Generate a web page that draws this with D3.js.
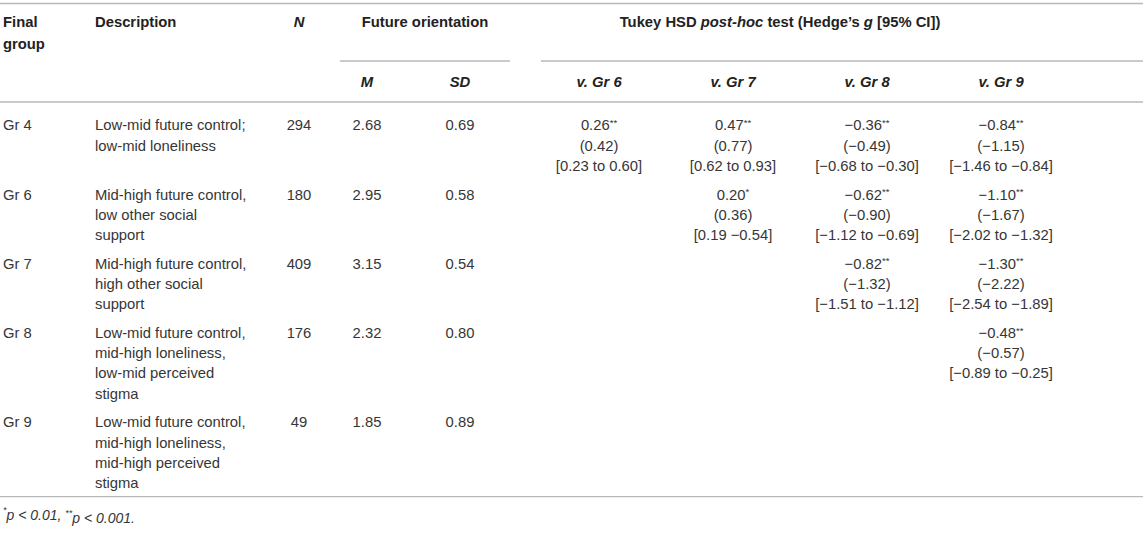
<!DOCTYPE html>
<html>
<head>
<meta charset="utf-8">
<script src="https://cdn.jsdelivr.net/npm/d3@7/dist/d3.min.js"></script>
<style>
  html, body { margin: 0; padding: 0; background: #fff; }
  svg text { font-family: "Liberation Sans", Arial, Helvetica, sans-serif; }
</style>
</head>
<body>
<svg id="chart" width="1143" height="534"></svg>
<script>
// ---------- DATA ----------
const groups = ["Gr 4", "Gr 6", "Gr 7", "Gr 8", "Gr 9"];
const descriptions = [
  ["Low-mid future control;", "low-mid loneliness"],
  ["Mid-high future control,", "low other social", "support"],
  ["Mid-high future control,", "high other social", "support"],
  ["Low-mid future control,", "mid-high loneliness,", "low-mid perceived", "stigma"],
  ["Low-mid future control,", "mid-high loneliness,", "mid-high perceived", "stigma"]
];
const nValues = [294, 180, 409, 176, 49];
const means = ["2.68", "2.95", "3.15", "2.32", "1.85"];
const sds = ["0.69", "0.58", "0.54", "0.80", "0.89"];
const comparisons = ["v. Gr 6", "v. Gr 7", "v. Gr 8", "v. Gr 9"];
// mean differences (null = empty cell)
const meanDiffs = [
  ["0.26", "0.47", "\u22120.36", "\u22120.84"],
  [null, "0.20", "\u22120.62", "\u22121.10"],
  [null, null, "\u22120.82", "\u22121.30"],
  [null, null, null, "\u22120.48"],
  [null, null, null, null]
];
const significance = [
  ["**", "**", "**", "**"],
  [null, "*", "**", "**"],
  [null, null, "**", "**"],
  [null, null, null, "**"],
  [null, null, null, null]
];
const hedgesG = [
  ["0.42", "0.77", "\u22120.49", "\u22121.15"],
  [null, "0.36", "\u22120.90", "\u22121.67"],
  [null, null, "\u22121.32", "\u22122.22"],
  [null, null, null, "\u22120.57"],
  [null, null, null, null]
];
const ciLabels = [
  ["[0.23 to 0.60]", "[0.62 to 0.93]", "[\u22120.68 to \u22120.30]", "[\u22121.46 to \u22120.84]"],
  [null, "[0.19 \u22120.54]", "[\u22121.12 to \u22120.69]", "[\u22122.02 to \u22121.32]"],
  [null, null, "[\u22121.51 to \u22121.12]", "[\u22122.54 to \u22121.89]"],
  [null, null, null, "[\u22120.89 to \u22120.25]"],
  [null, null, null, null]
];
const footnoteParts = [["*", "p < 0.01, "], ["**", "p < 0.001."]];

// ---------- LAYOUT ----------
const W = 1143;
const FS = 14.8;
const LH = 20.2;
const textColor = "#363636";
const headColor = "#222";
const ruleColor = "#b8b8b8";

const svg = d3.select("#chart");

const col = { group: 3, desc: 95, n: 299, m: 367, sd: 460 };
const cmpX = d3.scaleBand().domain(comparisons).range([532, 1068]);
const cx = c => cmpX(c) + cmpX.bandwidth() / 2;

// row line counts and y positions
const lineCounts = groups.map((g, i) => {
  const hasCmp = meanDiffs[i].some(v => v !== null);
  return Math.max(descriptions[i].length, hasCmp ? 3 : 1);
});
const firstBodyY = 125;
const rowGap = 8.6;
const rowY = [];
lineCounts.reduce((y, n, i) => { rowY[i] = y; return y + n * LH + rowGap; }, firstBodyY);

// rules
function rule(x1, x2, y, w) {
  svg.append("line").attr("x1", x1).attr("x2", x2).attr("y1", y).attr("y2", y)
    .attr("stroke", ruleColor).attr("stroke-width", w || 1.3);
}
rule(0, W, 3.5);
rule(340, 510, 61);
rule(541, W, 61);
rule(0, W, 102);
const bottomY = rowY[rowY.length - 1] + (lineCounts[lineCounts.length - 1] - 1) * LH + 14;
rule(0, W, bottomY);

function txt(x, y, s, opts) {
  opts = opts || {};
  const t = svg.append("text").attr("x", x).attr("y", y).attr("dy", "0.36em")
    .attr("font-size", opts.size || FS)
    .attr("fill", opts.color || textColor)
    .attr("text-anchor", opts.anchor || "start");
  if (opts.bold) t.attr("font-weight", "bold");
  if (opts.italic) t.attr("font-style", "italic");
  if (s !== null && s !== undefined) t.text(s);
  return t;
}

// ---------- HEADER ----------
const hdr = { bold: true, color: headColor };
txt(col.group, 22, "Final", hdr);
txt(col.group, 44, "group", hdr);
txt(col.desc, 22, "Description", hdr);
txt(col.n, 22, "N", Object.assign({ italic: true, anchor: "middle" }, hdr));
txt(425, 22, "Future orientation", Object.assign({ anchor: "middle" }, hdr));
const tk = txt(780, 22, null, Object.assign({ anchor: "middle" }, hdr));
tk.append("tspan").text("Tukey HSD ");
tk.append("tspan").attr("font-style", "italic").text("post-hoc");
tk.append("tspan").text(" test (Hedge\u2019s ");
tk.append("tspan").attr("font-style", "italic").text("g");
tk.append("tspan").text(" [95% CI])");
txt(col.m, 82, "M", Object.assign({ italic: true, anchor: "middle" }, hdr));
txt(col.sd, 82, "SD", Object.assign({ italic: true, anchor: "middle" }, hdr));
comparisons.forEach(c => txt(cx(c), 82, c, Object.assign({ italic: true, anchor: "middle" }, hdr)));

// ---------- BODY ----------
groups.forEach((g, i) => {
  const y = rowY[i];
  txt(col.group, y, g);
  descriptions[i].forEach((line, k) => txt(col.desc, y + k * LH, line));
  txt(col.n, y, String(nValues[i]), { anchor: "middle" });
  txt(col.m, y, means[i], { anchor: "middle" });
  txt(col.sd, y, sds[i], { anchor: "middle" });
  comparisons.forEach((c, j) => {
    if (meanDiffs[i][j] === null) return;
    const x = cx(c);
    const t = txt(x, y, null, { anchor: "middle" });
    t.append("tspan").text(meanDiffs[i][j]);
    t.append("tspan").attr("font-size", 9.5).attr("dy", "-0.45em").text(significance[i][j]);
    txt(x, y + LH, "(" + hedgesG[i][j] + ")", { anchor: "middle" });
    txt(x, y + 2 * LH, ciLabels[i][j], { anchor: "middle" });
  });
});

// ---------- FOOTNOTE ----------
const fn = txt(col.group, bottomY + 21, null, { italic: true, size: 14 });
footnoteParts.forEach(([star, rest]) => {
  fn.append("tspan").attr("font-size", 9).attr("dy", "-0.5em").text(star);
  fn.append("tspan").attr("dy", "0.5em").text(rest);
});
</script>
</body>
</html>
